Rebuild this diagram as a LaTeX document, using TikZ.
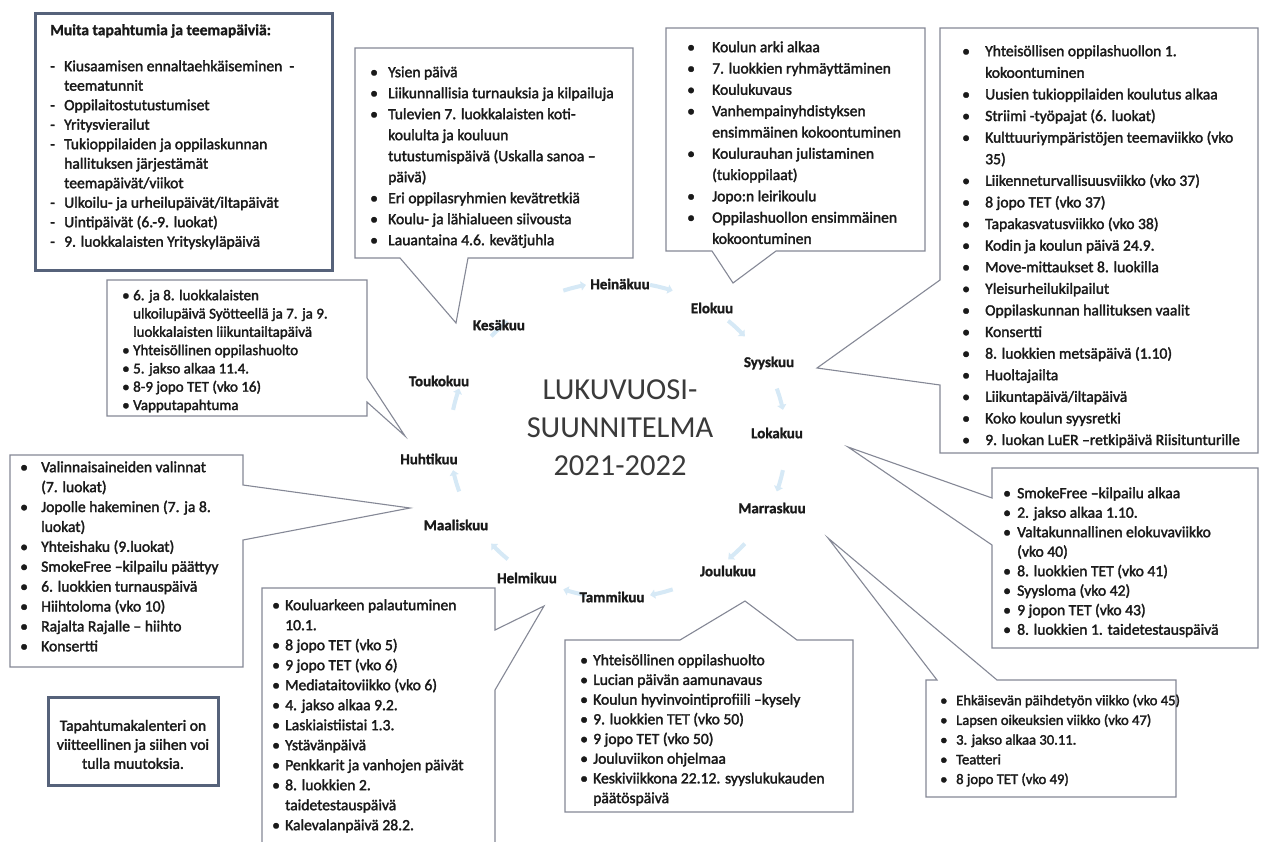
\documentclass[tikz,border=0pt]{standalone}
\usepackage{fontspec}
\setmainfont{Carlito}
\newfontfamily\listfont{Carlito}[FakeBold=2]
\newfontfamily\headfont{Carlito Bold}[FakeBold=1.2]
\usetikzlibrary{arrows.meta}
\definecolor{ink}{HTML}{1A1A1A}
\definecolor{titlegray}{HTML}{3A3A3A}
\definecolor{boxgray}{HTML}{858896}
\definecolor{thickblue}{HTML}{56627A}
\definecolor{faintblue}{RGB}{214,233,246}
\newlength\bgap
\newcommand\bl[1]{\makebox[\bgap][l]{\textbullet}#1}
\newcommand\dl[1]{\makebox[\bgap][l]{-}#1}
\newcommand\cl[1]{\hspace*{\bgap}#1}
\newcommand\lst[7]{\node[anchor=north west,align=left,inner sep=0pt,text=ink,
  font={\listfont\fontsize{#6}{#4}\selectfont\setlength\bgap{#5}}] (#1) at (#2,{#3+5-0.7*#4}) {\strut #7};}
\tikzset{
  callout/.style={draw=boxgray,line width=1.1pt,fill=white,line join=miter},
  thickbox/.style={draw=thickblue,line width=3pt,fill=white},
  month/.style={font=\headfont\fontsize{15}{16}\selectfont,text=ink,inner sep=1pt},
  faint/.style={draw=faintblue,line width=4pt,-{Triangle[length=5pt,width=9pt]}}
}
\begin{document}
\begin{tikzpicture}[x=1pt,y=-1pt]
\fill[white] (0,0) rectangle (1266,841);
\useasboundingbox (0,0) rectangle (1266,841);

% faint cycle arrows
\foreach \a in {75,45,15,-15,-45,-75,-105,-135,-165,165,135,105}{
  \draw[faint] plot[domain={\a+4}:{\a-4},samples=4] ({618+168*cos(\x)},{440-158*sin(\x)});
}

% pointer tips
\coordinate (tB) at (456,323);
\coordinate (tC) at (733,283);
\coordinate (tD) at (817,368);
\coordinate (tE) at (848,447);
\coordinate (tF) at (828,538);
\coordinate (tG) at (405,436);
\coordinate (tH) at (410,508);
\coordinate (tI) at (544,606);
\coordinate (tJ) at (745,601);

% boxes
\draw[thickbox] (35,13) rectangle (332,270);
\draw[thickbox] (48,697) rectangle (218,785);
\draw[callout] (355,48) -- (633,48) -- (633,258) -- (468,258) -- (tB) -- (400,258) -- (355,258) -- cycle;
\draw[callout] (666,28) -- (925,28) -- (925,251) -- (776,251) -- (tC) -- (712,251) -- (666,251) -- cycle;
\draw[callout] (940,28) -- (1258,28) -- (1258,453) -- (940,453) -- (940,385) -- (tD) -- (940,280) -- cycle;
\draw[callout] (992,468) -- (1258,468) -- (1258,648) -- (992,648) -- (992,545) -- (tE) -- (992,498) -- cycle;
\draw[callout] (926,680) -- (937,680) -- (tF) -- (997,680) -- (1176,680) -- (1176,797) -- (926,797) -- cycle;
\draw[callout] (107,280) -- (367,280) -- (367,378) -- (tG) -- (367,402) -- (367,416) -- (107,416) -- cycle;
\draw[callout] (10,455) -- (243,455) -- (243,485) -- (tH) -- (243,540) -- (243,667) -- (10,667) -- cycle;
\draw[callout] (262,588) -- (495,588) -- (495,630) -- (tI) -- (495,690) -- (495,860) -- (262,860) -- cycle;
\draw[callout] (565,640) -- (680,640) -- (tJ) -- (797,640) -- (853,640) -- (853,812) -- (565,812) -- cycle;

% box A
\node[anchor=west,inner sep=0pt,text=ink,font=\headfont\fontsize{15.6}{19.5}\selectfont] (headA) at (50,31) {Muita tapahtumia ja teemapäiviä:};
\lst{listA}{50}{66}{19.5}{14pt}{15.6}{\dl{Kiusaamisen ennaltaehkäiseminen \ -}\\\cl{teematunnit}\\\dl{Oppilaitostutustumiset}\\\dl{Yritysvierailut}\\\dl{Tukioppilaiden ja oppilaskunnan}\\\cl{hallituksen järjestämät}\\\cl{teemapäivät/viikot}\\\dl{Ulkoilu- ja urheilupäivät/iltapäivät}\\\dl{Uintipäivät (6.-9. luokat)}\\\dl{9. luokkalaisten Yrityskyläpäivä}}

% box B
\lst{listB}{370}{72}{21}{18pt}{15.6}{\bl{Ysien päivä}\\\bl{Liikunnallisia turnauksia ja kilpailuja}\\\bl{Tulevien 7. luokkalaisten koti-}\\\cl{koululta ja kouluun}\\\cl{tutustumispäivä (Uskalla sanoa –}\\\cl{päivä)}\\\bl{Eri oppilasryhmien kevätretkiä}\\\bl{Koulu- ja lähialueen siivousta}\\\bl{Lauantaina 4.6. kevätjuhla}}

% box C
\lst{listC}{687}{47}{21.3}{25pt}{15.6}{\bl{Koulun arki alkaa}\\\bl{7. luokkien ryhmäyttäminen}\\\bl{Koulukuvaus}\\\bl{Vanhempainyhdistyksen}\\\cl{ensimmäinen kokoontuminen}\\\bl{Koulurauhan julistaminen}\\\cl{(tukioppilaat)}\\\bl{Jopo:n leirikoulu}\\\bl{Oppilashuollon ensimmäinen}\\\cl{kokoontuminen}}

% box D
\lst{listD}{962}{51}{21.6}{23pt}{15.6}{\bl{Yhteisöllisen oppilashuollon 1.}\\\cl{kokoontuminen}\\\bl{Uusien tukioppilaiden koulutus alkaa}\\\bl{Striimi -työpajat (6. luokat)}\\\bl{Kulttuuriympäristöjen teemaviikko (vko}\\\cl{35)}\\\bl{Liikenneturvallisuusviikko (vko 37)}\\\bl{8 jopo TET (vko 37)}\\\bl{Tapakasvatusviikko (vko 38)}\\\bl{Kodin ja koulun päivä 24.9.}\\\bl{Move-mittaukset 8. luokilla}\\\bl{Yleisurheilukilpailut}\\\bl{Oppilaskunnan hallituksen vaalit}\\\bl{Konsertti}\\\bl{8. luokkien metsäpäivä (1.10)}\\\bl{Huoltajailta}\\\bl{Liikuntapäivä/iltapäivä}\\\bl{Koko koulun syysretki}\\\bl{9. luokan LuER –retkipäivä Riisitunturille}}

% box E
\lst{listE}{1003}{493}{19.5}{14pt}{15.6}{\bl{SmokeFree –kilpailu alkaa}\\\bl{2. jakso alkaa 1.10.}\\\bl{Valtakunnallinen elokuvaviikko}\\\cl{(vko 40)}\\\bl{8. luokkien TET (vko 41)}\\\bl{Syysloma (vko 42)}\\\bl{9 jopon TET (vko 43)}\\\bl{8. luokkien 1. taidetestauspäivä}}

% box F
\lst{listF}{940}{700}{19.7}{16pt}{14.6}{\bl{Ehkäisevän päihdetyön viikko (vko 45)}\\\bl{Lapsen oikeuksien viikko (vko 47)}\\\bl{3. jakso alkaa 30.11.}\\\bl{Teatteri}\\\bl{8 jopo TET (vko 49)}}

% box G
\lst{listG}{122}{295}{18.3}{11pt}{15}{\bl{6. ja 8. luokkalaisten}\\\cl{ulkoilupäivä Syötteellä ja 7. ja 9.}\\\cl{luokkalaisten liikuntailtapäivä}\\\bl{Yhteisöllinen oppilashuolto}\\\bl{5. jakso alkaa 11.4.}\\\bl{8-9 jopo TET (vko 16)}\\\bl{Vapputapahtuma}}

% box H
\lst{listH}{20}{467}{19.9}{21pt}{15.6}{\bl{Valinnaisaineiden valinnat}\\\cl{(7. luokat)}\\\bl{Jopolle hakeminen (7. ja 8.}\\\cl{luokat)}\\\bl{Yhteishaku (9.luokat)}\\\bl{SmokeFree –kilpailu päättyy}\\\bl{6. luokkien turnauspäivä}\\\bl{Hiihtoloma (vko 10)}\\\bl{Rajalta Rajalle – hiihto}\\\bl{Konsertti}}

% box I
\lst{listI}{272}{605}{20}{13pt}{15.6}{\bl{Kouluarkeen palautuminen}\\\cl{10.1.}\\\bl{8 jopo TET (vko 5)}\\\bl{9 jopo TET (vko 6)}\\\bl{Mediataitoviikko (vko 6)}\\\bl{4. jakso alkaa 9.2.}\\\bl{Laskiaistiistai 1.3.}\\\bl{Ystävänpäivä}\\\bl{Penkkarit ja vanhojen päivät}\\\bl{8. luokkien 2.}\\\cl{taidetestauspäivä}\\\bl{Kalevalanpäivä 28.2.}}

% box J
\lst{listJ}{580}{660}{19.7}{13pt}{15.6}{\bl{Yhteisöllinen oppilashuolto}\\\bl{Lucian päivän aamunavaus}\\\bl{Koulun hyvinvointiprofiili –kysely}\\\bl{9. luokkien TET (vko 50)}\\\bl{9 jopo TET (vko 50)}\\\bl{Jouluviikon ohjelmaa}\\\bl{Keskiviikkona 22.12. syyslukukauden}\\\cl{päätöspäivä}}

% box K
\node[align=center,inner sep=0pt,text=ink,font=\listfont\fontsize{15.6}{19}\selectfont] (noteK) at (133,746) {\strut Tapahtumakalenteri on\\viitteellinen ja siihen voi\\tulla muutoksia.\strut};

% title
\node[align=center,inner sep=0pt,text=titlegray,font=\fontsize{30.5}{38}\selectfont] (title) at (620,428) {LUKUVUOSI-\\SUUNNITELMA\\2021-2022};

% months
\node[month] (m7) at (620,284) {Heinäkuu};
\node[month] (m8) at (712,308) {Elokuu};
\node[month] (m9) at (769,363) {Syyskuu};
\node[month] (m10) at (777,433) {Lokakuu};
\node[month] (m11) at (772,508) {Marraskuu};
\node[month] (m12) at (728,571) {Joulukuu};
\node[month] (m1) at (612,597) {Tammikuu};
\node[month] (m2) at (527,578) {Helmikuu};
\node[month] (m3) at (456,525) {Maaliskuu};
\node[month] (m4) at (429,459) {Huhtikuu};
\node[month] (m5) at (439,381) {Toukokuu};
\node[month] (m6) at (499,325) {Kesäkuu};
\end{tikzpicture}
\end{document}
